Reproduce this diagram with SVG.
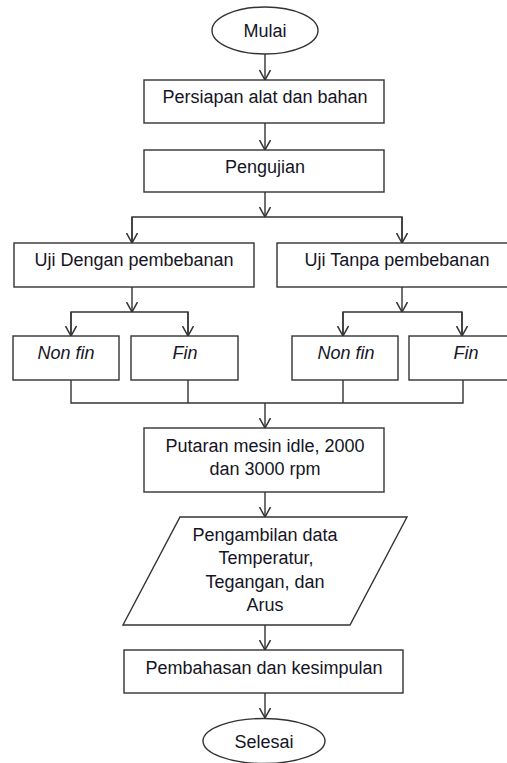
<svg xmlns="http://www.w3.org/2000/svg" width="507" height="763" viewBox="0 0 507 763">
<style>
.s{fill:#fff;stroke:#333;stroke-width:1.4}
.t{font-family:"Liberation Sans",Arial,sans-serif;font-size:18px;fill:#151525;text-anchor:middle}
.i{font-style:italic}
.c path,.c line{fill:none;stroke:#333;stroke-width:1.4}
</style>
<defs>
<marker id="a" viewBox="0 0 10 12" refX="10" refY="6" markerWidth="10" markerHeight="12" markerUnits="userSpaceOnUse" orient="auto">
<path d="M0,0.5 L10,6 L0,11.5" fill="none" stroke="#333" stroke-width="1.5"/>
</marker>
</defs>
<rect width="507" height="763" fill="#fff"/>
<g class="c" id="connectors">
<line x1="265" y1="54" x2="265" y2="80" marker-end="url(#a)"/>
<line x1="265" y1="123" x2="265" y2="150" marker-end="url(#a)"/>
<line x1="265" y1="192" x2="265" y2="217" marker-end="url(#a)"/>
<path d="M132,243 V217 H402 V243"/>
<line x1="132" y1="217" x2="132" y2="243" marker-end="url(#a)"/>
<line x1="402" y1="217" x2="402" y2="243" marker-end="url(#a)"/>
<line x1="132" y1="287" x2="132" y2="312" marker-end="url(#a)"/>
<path d="M71,336 V312 H188 V336"/>
<line x1="71" y1="312" x2="71" y2="336" marker-end="url(#a)"/>
<line x1="188" y1="312" x2="188" y2="336" marker-end="url(#a)"/>
<line x1="402" y1="287" x2="402" y2="312" marker-end="url(#a)"/>
<path d="M343,336 V312 H462 V336"/>
<line x1="343" y1="312" x2="343" y2="336" marker-end="url(#a)"/>
<line x1="462" y1="312" x2="462" y2="336" marker-end="url(#a)"/>
<path d="M71,380 V403 H463 V380 M188,380 V403 M343,380 V403"/>
<line x1="265" y1="403" x2="265" y2="428" marker-end="url(#a)"/>
<line x1="265" y1="492" x2="265" y2="517" marker-end="url(#a)"/>
<line x1="265" y1="625" x2="265" y2="650" marker-end="url(#a)"/>
<line x1="265" y1="693" x2="265" y2="718" marker-end="url(#a)"/>
</g>
<g id="mulai"><ellipse class="s" cx="265" cy="30.5" rx="53" ry="23.5"/><text class="t" x="265" y="37">Mulai</text></g>
<g id="persiapan"><rect class="s" x="144" y="80" width="240" height="43"/><text class="t" x="265" y="103">Persiapan alat dan bahan</text></g>
<g id="pengujian"><rect class="s" x="144" y="150" width="240" height="42"/><text class="t" x="265" y="173">Pengujian</text></g>
<g id="uji-dengan"><rect class="s" x="14" y="243" width="240" height="44"/><text class="t" x="134" y="266">Uji Dengan pembebanan</text></g>
<g id="uji-tanpa"><rect class="s" x="277" y="243" width="250" height="44"/><text class="t" x="397" y="266">Uji Tanpa pembebanan</text></g>
<g id="nonfin-1"><rect class="s" x="13" y="336" width="106" height="44"/><text class="t i" x="66" y="359">Non fin</text></g>
<g id="fin-1"><rect class="s" x="131" y="336" width="107" height="44"/><text class="t i" x="185" y="359">Fin</text></g>
<g id="nonfin-2"><rect class="s" x="292" y="336" width="106" height="44"/><text class="t i" x="346" y="359">Non fin</text></g>
<g id="fin-2"><rect class="s" x="409" y="336" width="110" height="44"/><text class="t i" x="466" y="359">Fin</text></g>
<g id="putaran"><rect class="s" x="144" y="428" width="240" height="64"/><text class="t" x="265" y="452">Putaran mesin idle, 2000</text><text class="t" x="265" y="475">dan 3000 rpm</text></g>
<g id="pengambilan"><path class="s" d="M180,517 H407 L350,625 H123 Z"/><text class="t" x="265" y="541">Pengambilan data</text><text class="t" x="266" y="564">Temperatur,</text><text class="t" x="265" y="588">Tegangan, dan</text><text class="t" x="265" y="611">Arus</text></g>
<g id="pembahasan"><rect class="s" x="124" y="650" width="279" height="43"/><text class="t" x="264" y="674">Pembahasan dan kesimpulan</text></g>
<g id="selesai"><ellipse class="s" cx="264" cy="741" rx="61" ry="22.5"/><text class="t" x="264" y="748">Selesai</text></g>
</svg>
